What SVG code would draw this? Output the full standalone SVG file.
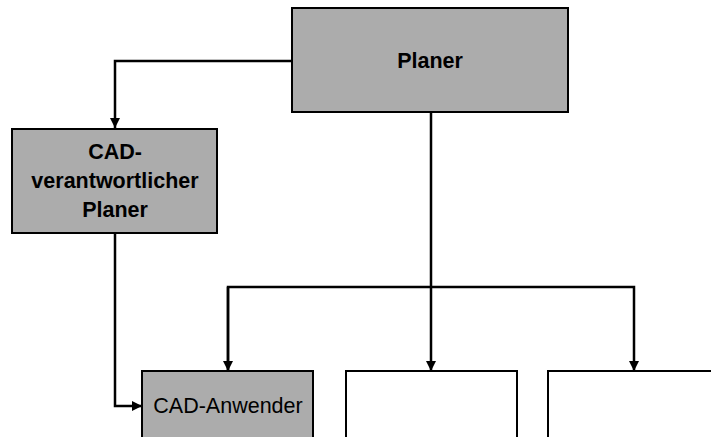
<svg xmlns="http://www.w3.org/2000/svg" width="711" height="437" viewBox="0 0 711 437">
  <defs>
    <marker id="arrow" viewBox="0 0 10 10" refX="10" refY="5" markerWidth="10" markerHeight="10" markerUnits="userSpaceOnUse" orient="auto">
      <path d="M0,0 L10,5 L0,10 Z" fill="#000"/>
    </marker>
    <style>
      .box { stroke: #000; stroke-width: 2; }
      .grey { fill: #acacac; }
      .white { fill: #fff; }
      .lbl { font-family: "Liberation Sans", Arial, sans-serif; font-size: 21.5px; fill: #000; text-anchor: middle; }
      .bold { font-weight: bold; }
      .conn { fill: none; stroke: #000; stroke-width: 2.5; }
    </style>
  </defs>
  <rect width="711" height="437" fill="#fff"/>

  <g id="connectors">
    <path class="conn" d="M292,61 H115 V128" marker-end="url(#arrow)"/>
    <path class="conn" d="M431,112 V371" marker-end="url(#arrow)"/>
    <path class="conn" d="M228,371 V287 H634 V371" marker-end="url(#arrow)"/>
    <path class="conn" d="M228,287 V371" marker-end="url(#arrow)"/>
    <path class="conn" d="M115,233 V406 H142" marker-end="url(#arrow)"/>
  </g>

  <g id="planer">
    <rect class="box grey" x="292" y="8" width="276" height="104"/>
    <text class="lbl bold" x="430" y="68">Planer</text>
  </g>

  <g id="cad-planer">
    <rect class="box grey" x="12" y="129" width="205" height="104"/>
    <text class="lbl bold" x="115" y="159">CAD-</text>
    <text class="lbl bold" x="115" y="188">verantwortlicher</text>
    <text class="lbl bold" x="115" y="217">Planer</text>
  </g>

  <g id="cad-anwender">
    <rect class="box grey" x="142" y="371" width="171" height="80"/>
    <text class="lbl" x="228" y="413">CAD-Anwender</text>
  </g>

  <g id="node-b">
    <rect class="box white" x="346" y="371" width="171" height="80"/>
  </g>

  <g id="node-c">
    <rect class="box white" x="548" y="371" width="180" height="80"/>
  </g>
</svg>
